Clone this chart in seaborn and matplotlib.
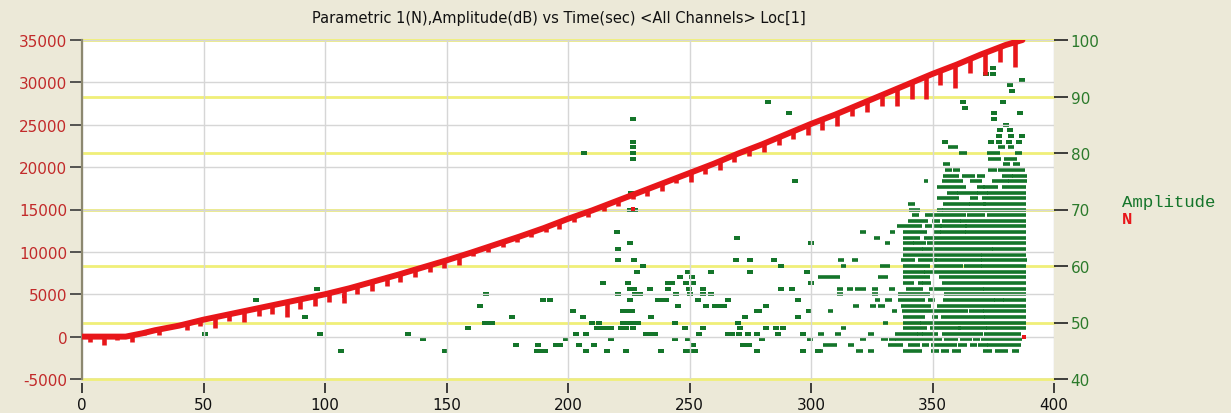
import matplotlib
matplotlib.use("Agg")
import matplotlib.pyplot as plt
import pandas as pd
import seaborn as sns

# === Colours ===
BG = "#ece9d8"
RED = "#e8161a"
RED_TXT = "#c22a2a"
GREEN = "#14752a"
GREEN_TXT = "#2b7a2b"

TITLE = "Parametric 1(N),Amplitude(dB) vs Time(sec) <All Channels> Loc[1]"

# === N (left axis): main curve ===
curve_t = [0, 18, 25, 30, 40, 50, 60, 70, 80, 90, 100, 110, 120, 130, 140, 150, 160, 170,
           180, 190, 200, 210, 220, 230, 240, 250, 260, 270, 280, 290, 300, 310, 320, 330,
           340, 350, 360, 370, 380, 387]
curve_n = [0, 0, 400, 750, 1300, 2000, 2600, 3200, 3800, 4400, 5000, 5700, 6500, 7300, 8150,
           9000, 9900, 10850, 11800, 12800, 13900, 14900, 16000, 17100, 18200, 19300, 20400,
           21600, 22700, 23900, 25100, 26200, 27400, 28600, 29800, 31000, 32100, 33300, 34400,
           35000]

# === N: load drops (hooks below the curve) ===
hook_t = [3.4, 8.9, 14.4, 20.6, 25.4, 31.6, 37.0, 43.2, 48.7, 54.9, 60.4, 66.5, 72.7, 78.2,
          84.4, 89.8, 96.0, 101.5, 107.7, 113.2, 119.3, 125.5, 131.0, 137.2, 143.3, 148.8,
          155.0, 161.0, 167.2, 173.1, 178.9, 184.8, 190.9, 196.4, 202.5, 208.4, 214.8, 220.7,
          226.6, 232.4, 238.6, 244.4, 250.5, 256.4, 262.6, 268.3, 274.6, 280.7, 287.0, 292.7,
          298.9, 304.4, 310.6, 316.8, 323.0, 329.1, 335.3, 341.5, 347.4, 353.1, 359.3, 365.5,
          371.6, 377.8, 384.0]
hook_hi = [0, 0, 0, 150, 420, 830, 1130, 1500, 1900, 2300, 2620, 3000, 3350, 3700, 4060, 4400,
           4750, 5100, 5540, 5930, 6440, 6940, 7380, 7900, 8430, 8900, 9450, 9990, 10580, 11140,
           11700, 12280, 12890, 13500, 14150, 14740, 15430, 16080, 16730, 17360, 18050, 18680,
           19360, 20010, 20710, 21400, 22110, 22780, 23540, 24220, 24970, 25580, 26270, 27020,
           27760, 28490, 29240, 29980, 30690, 31340, 32020, 32760, 33490, 34130, 34740]
hook_lo = [-675, -990, -360, -600, 190, 190, 980, 820, 1290, 1050, 1880, 1690, 2390, 2670,
           2280, 3260, 3580, 4050, 3970, 5030, 5420, 6010, 6480, 7000, 7590, 8060, 8500, 9550,
           10020, 10610, 11130, 11790, 12310, 12700, 13560, 14080, 14790, 15380, 16240, 16560,
           17220, 18130, 18210, 19190, 19660, 20640, 21350, 21820, 22610, 23320, 23800, 24380,
           24890, 26070, 26470, 27250, 27250, 28040, 28040, 29690, 29300, 31110, 30870, 32370,
           31780]
extra_t = [107.7, 226.6, 387.6]
extra_n = [4830, 15060, -50]

# === Amplitude (right axis): isolated hits, by dB level ===
hit_db = [45, 46, 47, 48, 49, 50, 51, 52, 53, 54, 55, 56, 57, 58, 59, 60, 61, 63, 64, 65, 66,
          70, 73, 75, 79, 80, 81, 82, 83, 84, 85, 86, 87, 88, 89, 91, 92, 93, 94, 95]
hit_t = [
    [106.7, 149.5, 187.1, 189.0, 190.5, 207.4, 215.9, 223.8, 238.1, 248.5, 250.0, 252.2, 277.6, 296.8, 303.0],
    [178.4, 187.5, 195.0, 196.7, 204.6, 210.7, 251.3, 272.1, 273.2, 274.4],
    [140.2, 199.1, 217.9, 244.0, 249.2, 279.7, 299.5],
    [50.5, 97.9, 134.2, 203.3, 207.6, 232.3, 233.5, 235.8, 254.0, 265.9, 267.3, 270.5, 274.2, 277.6, 286.5, 296.8],
    [159.0, 211.8, 213.0, 214.5, 215.2, 217.9, 222.0, 223.7, 226.9, 248.1, 255.4, 270.7, 281.4, 285.6, 288.6],
    [165.8, 167.2, 168.6, 209.7, 212.9, 222.5, 224.0, 226.2, 227.8, 229.0, 244.0, 270.1],
    [91.9, 176.9, 206.0, 234.1, 272.8, 294.5],
    [201.9, 222.5, 224.0, 226.2, 277.6, 278.7, 299.1],
    [163.8, 245.4, 256.7, 260.5, 262.2, 264.2, 281.4],
    [71.7, 189.8, 192.6, 225.5, 237.1, 238.5, 240.3, 253.3, 265.9, 294.7],
    [166.2, 220.7, 227.5, 229.0, 229.6, 244.4, 250.2, 255.4, 258.8],
    [96.7, 225.5, 227.3, 233.7, 241.2, 249.9, 255.4, 287.6, 292.3],
    [214.5, 224.8, 241.0, 242.0, 243.0, 248.5, 251.3, 300.2],
    [246.0, 250.9],
    [228.6, 249.2, 258.8, 274.9, 298.2],
    [230.7, 287.6],
    [220.7, 227.3, 269.0, 274.9, 284.9],
    [220.7],
    [225.5, 300.2],
    [269.4],
    [220.0],
    [225.5, 227.5],
    [226.0],
    [293.6],
    [226.6],
    [206.5, 226.6],
    [226.6],
    [226.6, 355.2, 374.0, 377.5, 381.3, 385.4],
    [377.4, 382.3, 386.7],
    [377.8, 381.9],
    [380.3],
    [226.6, 375.4],
    [291.0, 375.4, 386.0],
    [363.4],
    [282.4, 362.7, 378.9],
    [382.6],
    [381.9],
    [386.7],
    [371.9, 375.0],
    [375.0],
]

# === Amplitude: dense runs of hits at the end of the test (start, end seconds) ===
row_db = [81, 80, 79, 78, 77, 76, 75, 74, 73, 72, 71, 70, 69, 68, 67, 66, 65, 64, 63, 62, 61,
          60, 59, 58, 57, 56, 55, 54, 53, 52, 51, 50, 49, 48, 47, 46, 45]
row_runs = [
    [(357.2, 359.7), (377.8, 379.2), (381.9, 383.0)],
    [(361.4, 363.4), (373.0, 377.1), (384.7, 386.0)],
    [(373.7, 377.5), (380.3, 384.0)],
    [(355.2, 356.6), (379.9, 381.3), (384.0, 385.4)],
    [(355.9, 357.5), (359.3, 360.7), (373.7, 375.8), (377.8, 387.4)],
    [(355.2, 357.2), (358.6, 360.0), (362.7, 364.1), (365.5, 366.8), (368.9, 371.0), (379.2, 382.6), (383.3, 388.1)],
    [(347.3, 347.3), (354.5, 362.0), (366.2, 369.6), (375.1, 380.6), (381.9, 388.1)],
    [(352.4, 363.0), (368.9, 370.9), (371.6, 373.0), (374.3, 376.4), (379.1, 387.6)],
    [(356.5, 359.9), (360.6, 368.2), (368.9, 372.3), (373.0, 387.6)],
    [(352.4, 360.2), (366.1, 368.2), (370.9, 387.6)],
    [(340.5, 342.1), (355.1, 364.7), (365.7, 371.2), (371.6, 387.6)],
    [(341.0, 344.2), (352.4, 353.8), (354.5, 387.6)],
    [(342.1, 343.8), (347.6, 353.1), (354.5, 363.0), (364.7, 370.9), (373.0, 387.6)],
    [(340.5, 343.5), (344.9, 347.3), (350.3, 352.4), (354.5, 361.0), (362.0, 365.4), (366.8, 387.6)],
    [(335.9, 337.3), (338.7, 344.9), (347.6, 349.0), (351.0, 353.1), (353.8, 363.4), (364.1, 387.6)],
    [(320.8, 321.8), (333.2, 333.9), (338.7, 340.5), (341.8, 346.9), (351.0, 352.8), (353.8, 363.0), (364.1, 387.6)],
    [(326.7, 327.7), (338.7, 344.2), (347.3, 350.3), (351.4, 387.6)],
    [(331.1, 331.8), (338.7, 341.8), (342.8, 346.5), (348.3, 387.6)],
    [(338.7, 345.5), (346.2, 374.3), (375.0, 387.6)],
    [(338.7, 344.9), (346.2, 352.4), (353.8, 369.5), (370.6, 387.6)],
    [(311.9, 313.0), (317.4, 318.5), (337.7, 342.1), (344.6, 351.0), (351.7, 369.5), (370.6, 388.1)],
    [(313.0, 313.6), (329.1, 331.8), (338.7, 348.3), (351.0, 362.0), (363.8, 369.8), (370.6, 387.6)],
    [(338.7, 346.2), (347.3, 387.6)],
    [(303.7, 311.2), (328.1, 331.1), (338.7, 348.3), (353.4, 387.6)],
    [(338.7, 341.8), (344.6, 345.5), (346.2, 348.7), (354.5, 387.6)],
    [(311.2, 312.6), (315.4, 316.7), (318.8, 321.8), (325.9, 327.0), (332.8, 333.9), (340.0, 345.5), (349.2, 370.6), (371.3, 387.6)],
    [(311.2, 312.6), (325.6, 327.0), (336.3, 337.3), (338.7, 348.3), (355.6, 362.0), (363.4, 387.6)],
    [(327.0, 327.7), (331.1, 332.5), (336.3, 337.3), (338.7, 346.2), (348.7, 350.3), (355.1, 375.0), (376.1, 378.9), (379.8, 387.6)],
    [(318.1, 319.1), (325.0, 325.9), (328.4, 329.8), (337.7, 343.5), (344.9, 348.7), (352.4, 387.6)],
    [(307.5, 308.5), (333.9, 334.6), (338.0, 349.7), (351.0, 364.1), (365.7, 370.6), (371.6, 387.6)],
    [(338.7, 346.2), (350.3, 351.4), (354.2, 370.9), (372.0, 387.6)],
    [(330.4, 331.1), (338.7, 344.6), (345.5, 348.3), (349.7, 387.6)],
    [(313.0, 313.6), (338.7, 346.9), (349.7, 361.0), (361.3, 371.6), (372.6, 387.6)],
    [(303.7, 304.8), (310.6, 311.7), (324.0, 325.4), (335.3, 337.3), (338.7, 340.7), (342.1, 343.5), (344.2, 345.5), (346.2, 347.3), (348.7, 351.4), (354.5, 370.2), (372.0, 373.9), (375.0, 385.7)],
    [(320.8, 321.8), (329.5, 330.9), (332.8, 334.2), (335.3, 337.3), (338.7, 341.4), (342.8, 344.9), (346.2, 347.3), (349.0, 353.1), (355.6, 359.9), (362.0, 365.4), (367.5, 368.9), (370.6, 372.3), (373.7, 386.0)],
    [(305.8, 309.9), (316.0, 317.1), (332.5, 337.3), (340.5, 344.2), (346.5, 347.9), (350.1, 351.7), (353.1, 354.2), (355.6, 359.3), (361.3, 363.4), (366.1, 367.5), (369.3, 372.3), (373.0, 385.7)],
    [(303.7, 304.4), (319.1, 320.8), (324.0, 325.4), (338.7, 344.9), (350.1, 352.0), (354.2, 356.1), (358.6, 361.0), (371.6, 373.7), (376.4, 380.5), (383.3, 384.9)],
]

# === Tables ===
curve = pd.DataFrame({"t": curve_t, "n": curve_n})
extra = pd.DataFrame({"t": extra_t, "n": extra_n})
hits = pd.DataFrame([(t, db) for db, ts in zip(hit_db, hit_t) for t in ts], columns=["t", "db"])

# === Figure ===
sns.set_style("white")
plt.rcParams["font.family"] = ["DejaVu Sans"]
plt.rcParams["axes.unicode_minus"] = False

fig = plt.figure(figsize=(12.31, 4.14), dpi=100)
fig.patch.set_facecolor(BG)
ax = fig.add_axes([82 / 1231, 34 / 414, 972 / 1231, 339 / 414])
ax2 = ax.twinx()

# left (N) axes drawn over the amplitude axes
ax.set_zorder(ax2.get_zorder() + 1)
ax.patch.set_visible(False)
ax2.patch.set_visible(True)
ax2.set_facecolor("white")

# --- amplitude hits (green) ---
rect = [(-1.0, -0.75), (1.0, -0.75), (1.0, 0.75), (-1.0, 0.75)]
for db, runs in zip(row_db, row_runs):
    ax2.hlines([db] * len(runs), [r[0] - 0.7 for r in runs], [r[1] + 0.7 for r in runs],
               colors=GREEN, linewidth=2.6, zorder=3)
sns.scatterplot(data=hits, x="t", y="db", ax=ax2, marker=rect, s=14, color=GREEN,
                linewidth=0, zorder=3, legend=False)

# --- N curve (red) ---
ax.vlines(hook_t, hook_lo, hook_hi, colors=RED, linewidth=3.3, zorder=3)
sns.lineplot(data=curve, x="t", y="n", ax=ax, color=RED, linewidth=4.3, sort=False,
             estimator=None, zorder=4)
sns.scatterplot(data=extra, x="t", y="n", ax=ax, marker="s", s=12, color=RED,
                linewidth=0, zorder=4, legend=False)

# --- axes ---
ax.set_xlim(0, 400)
ax.set_ylim(-5000, 35000)
ax2.set_ylim(40, 100)
ax.set_xticks(range(0, 401, 50))
ax.set_yticks(range(-5000, 35001, 5000))
ax2.set_yticks(range(40, 101, 10))
ax.set_xlabel("")
ax.set_ylabel("")
ax2.set_xlabel("")
ax2.set_ylabel("")

ax.grid(True, color="#d6d6d6", linewidth=1.0)
ax.set_axisbelow(True)
ax2.grid(True, axis="y", color="#f0ef78", linewidth=2.0)
ax2.set_axisbelow(True)
for gl in ax2.get_ygridlines():
    gl.set_clip_on(False)

for s in ["top", "right"]:
    ax.spines[s].set_visible(False)
ax.spines["bottom"].set_position(("outward", 3))
ax.spines["bottom"].set_visible(False)
ax.spines["left"].set_color("#8c8870")
ax.spines["left"].set_linewidth(1.6)
for s in ax2.spines.values():
    s.set_visible(False)

ax.tick_params(axis="y", direction="out", length=8.5, width=1.2, color="#3a3a3a",
               labelcolor=RED_TXT, labelsize=11, pad=2, left=True)
ax.tick_params(axis="x", direction="out", length=7, width=1.2, color="#202020",
               labelcolor="#111111", labelsize=11, pad=3, bottom=True)
ax2.tick_params(axis="y", direction="out", length=10, width=1.2, color="#202020",
                labelcolor=GREEN_TXT, labelsize=11, pad=2, right=True)

# --- title and legend ---
fig.text(559 / 1231, 1 - 18 / 414, TITLE, ha="center", va="center", fontsize=10.5,
         color="#111111")
fig.text(1122 / 1231, 1 - 203 / 414, "Amplitude", ha="left", va="center", fontsize=12.5,
         color=GREEN, family=["Liberation Mono", "DejaVu Sans Mono"])
fig.text(1122 / 1231, 1 - 220 / 414, "N", ha="left", va="center", fontsize=12.5,
         color=RED, family=["Liberation Mono", "DejaVu Sans Mono"], fontweight="bold")

fig.savefig("out.png", dpi=100, facecolor=BG)
